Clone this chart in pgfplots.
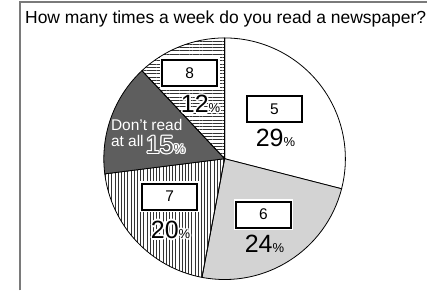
\documentclass[border=0pt]{standalone}
\usepackage{pgfplots}
\pgfplotsset{compat=1.18}
\usepackage{fontspec}
\setmainfont{Liberation Sans}
\usetikzlibrary{patterns,patterns.meta}

\definecolor{lightg}{HTML}{D3D3D3}
\definecolor{darkg}{HTML}{5E5E5E}
\definecolor{framec}{HTML}{7A7A7A}

\tikzset{
  s5/.style={fill=white},
  s6/.style={fill=lightg},
  s7/.style={pattern={Lines[angle=90,distance=3.2bp,line width=0.7bp]},pattern color=black!80},
  s0/.style={fill=darkg},
  s8/.style={pattern={Lines[angle=0,distance=3.3bp,line width=0.7bp]},pattern color=black!80},
}

\newcommand\pct[1]{{\fontsize{25bp}{25bp}\selectfont #1}{\fontsize{13bp}{13bp}\selectfont\%}}
\newcommand\halotext[5]{% #1 coords, #2 text, #3 halo colour, #4 text colour, #5 halo size
  \node[anchor=base west,inner sep=0,text=#3,xshift=#5] at (axis cs:#1) {#2};
  \node[anchor=base west,inner sep=0,text=#3,xshift=-#5] at (axis cs:#1) {#2};
  \node[anchor=base west,inner sep=0,text=#3,yshift=#5] at (axis cs:#1) {#2};
  \node[anchor=base west,inner sep=0,text=#3,yshift=-#5] at (axis cs:#1) {#2};
  \node[anchor=base west,inner sep=0,text=#3,xshift=0.7*#5,yshift=0.7*#5] at (axis cs:#1) {#2};
  \node[anchor=base west,inner sep=0,text=#3,xshift=-0.7*#5,yshift=0.7*#5] at (axis cs:#1) {#2};
  \node[anchor=base west,inner sep=0,text=#3,xshift=0.7*#5,yshift=-0.7*#5] at (axis cs:#1) {#2};
  \node[anchor=base west,inner sep=0,text=#3,xshift=-0.7*#5,yshift=-0.7*#5] at (axis cs:#1) {#2};
  \node[anchor=base west,inner sep=0,text=#4] at (axis cs:#1) {#2};
}
\newcommand\numbox[2]{%
  \node[draw=black,line width=2.2bp,fill=white,minimum width=55bp,minimum height=26bp,inner sep=0,
        preaction={draw=white,line width=5bp},
        font=\fontsize{15.5bp}{15.5bp}\selectfont] at (axis cs:#1) {#2};
}

\begin{document}
\begin{tikzpicture}
\begin{axis}[
  scale only axis, width=428bp, height=291bp,
  xmin=0, xmax=428, ymin=0, ymax=291, y dir=reverse,
  hide axis, clip=false,
]
\path (axis cs:0,0) rectangle (axis cs:428,291);
% pie slices: 5, 6, 7, don't read, 8 (percent)
\pgfplotsextra{
  \gdef\cum{90}
  \foreach \v/\sty in {29/s5,24/s6,20/s7,15/s0,12/s8}{
    \pgfmathsetmacro\endA{\cum-3.6*\v}
    \path[\sty,draw=black,line width=0.8bp] (axis cs:225,159) -- ++(\cum:121bp)
      arc[start angle=\cum, end angle=\endA, radius=121bp] -- cycle;
    \global\let\cum\endA
  }
}
% frame
\draw[framec,line width=1.5bp] (axis cs:20,291) -- (axis cs:20,2) -- (axis cs:428,2);
% title
\node[anchor=base west,inner sep=0,font=\fontsize{17.5bp}{17.5bp}\selectfont] at (axis cs:25,24) {How many times a week do you read a newspaper?};
% boxes
\numbox{275,109}{5}
\numbox{264,215}{6}
\numbox{170,197}{7}
\numbox{190,73}{8}
% percentages
\node[anchor=base west,inner sep=0] at (axis cs:256,147) {\pct{29}};
\node[anchor=base west,inner sep=0] at (axis cs:245,253) {\pct{24}};
\halotext{151,239}{\pct{20}}{white}{black}{1.6bp}
\halotext{181,113}{\pct{12}}{white}{black}{1.6bp}
\node[anchor=base west,inner sep=0,text=white,font=\fontsize{15.5bp}{15.5bp}\selectfont] at (axis cs:111,131) {Don’t read};
\node[anchor=base west,inner sep=0,text=white,font=\fontsize{15.5bp}{15.5bp}\selectfont] at (axis cs:111,147) {at all};
\halotext{146,154}{\pct{15}}{white}{darkg}{1.2bp}
\end{axis}
\end{tikzpicture}
\end{document}
